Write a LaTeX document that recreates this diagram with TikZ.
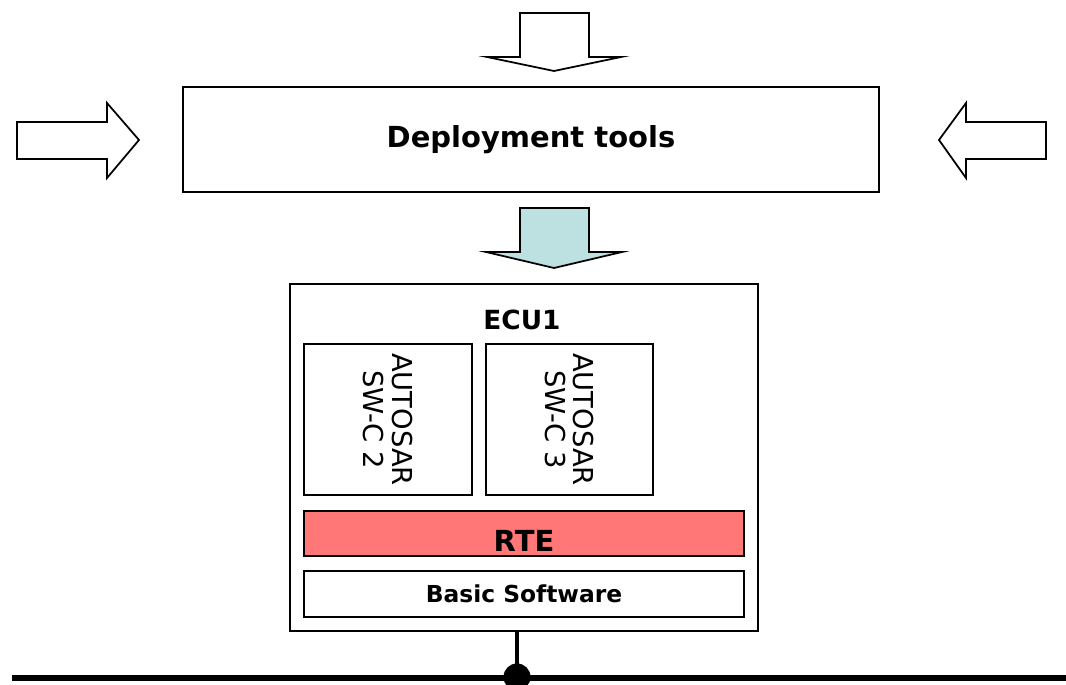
\documentclass[tikz,border=0pt]{standalone}
\usepackage{xcolor}
\usepackage{fontspec}
\setmainfont{DejaVu Sans}
\usepackage{tikz}
\usetikzlibrary{positioning}
\definecolor{flowblue}{HTML}{BDE0E0}
\definecolor{rtered}{HTML}{FF7777}
\tikzstyle{box}=[rectangle, draw=black, line width=1pt, fill=white, inner sep=0pt, text centered]
\tikzstyle{component}=[box, minimum width=3.36cm, minimum height=3.02cm]
\tikzstyle{layer}=[box, minimum width=8.8cm, minimum height=0.9cm]
\tikzstyle{blockarrow}=[draw=black, line width=1pt, fill=white, line join=miter]
\tikzstyle{title}=[font=\bfseries\fontsize{16.5}{20}\selectfont]

\begin{document}
\begin{tikzpicture}[x=0.02cm, y=-0.02cm]
        \useasboundingbox (0,0) rectangle (1066,685);
        % input arrows
        \draw[blockarrow] (520,13) -- (589,13) -- (589,57) -- (621,57) -- (554,71)
          -- (487,57) -- (520,57) -- cycle;
        \draw[blockarrow] (17,122) -- (107,122) -- (107,103) -- (139,140) -- (107,178)
          -- (107,159) -- (17,159) -- cycle;
        \draw[blockarrow] (1046,122) -- (966,122) -- (966,103) -- (939,140) -- (966,178)
          -- (966,159) -- (1046,159) -- cycle;

        \node (tools) [box, title, minimum width=13.92cm, minimum height=2.1cm] at (531,139.5)
        {Deployment tools};

        % output arrow
        \draw[blockarrow, fill=flowblue] (520,208) -- (589,208) -- (589,252) -- (622,252)
          -- (554,268) -- (486,252) -- (520,252) -- cycle;

        \node (ecu) [box, minimum width=9.36cm, minimum height=6.94cm] at (524,457.5) {};
        \node (ecuname) [font=\bfseries\fontsize{15}{18}\selectfont] at (522,320) {ECU1};
        \node (swc2) [component] at (388,419.5) {};
        \node (swc3) [component, minimum width=3.34cm] at (569.5,419.5) {};
        \node [rotate=-90, align=center, font=\fontsize{15.6}{16}\selectfont] at (swc2) {AUTOSAR\\SW-C 2};
        \node [rotate=-90, align=center, font=\fontsize{15.6}{16}\selectfont] at (swc3) {AUTOSAR\\SW-C 3};
        \node (rte) [layer, fill=rtered] at (524,533.5) {};
        \node (rtename) [title] at ([yshift=-0.14cm]rte.center) {RTE};
        \node (bsw) [layer, font=\bfseries\fontsize{13.3}{16}\selectfont, minimum height=0.92cm] at (524,594)
        {Basic Software};

        % bus
        \coordinate (tap) at (517,677);
        \coordinate (busleft) at (12,678);
        \coordinate (busright) at (1070,678);
        \draw[line width=2.3pt] (tap |- ecu.south) -- (tap);
        \draw[line width=3.6pt] (busleft) -- (busright);
        \fill (tap) circle (13.5);
      \end{tikzpicture}
\end{document}
